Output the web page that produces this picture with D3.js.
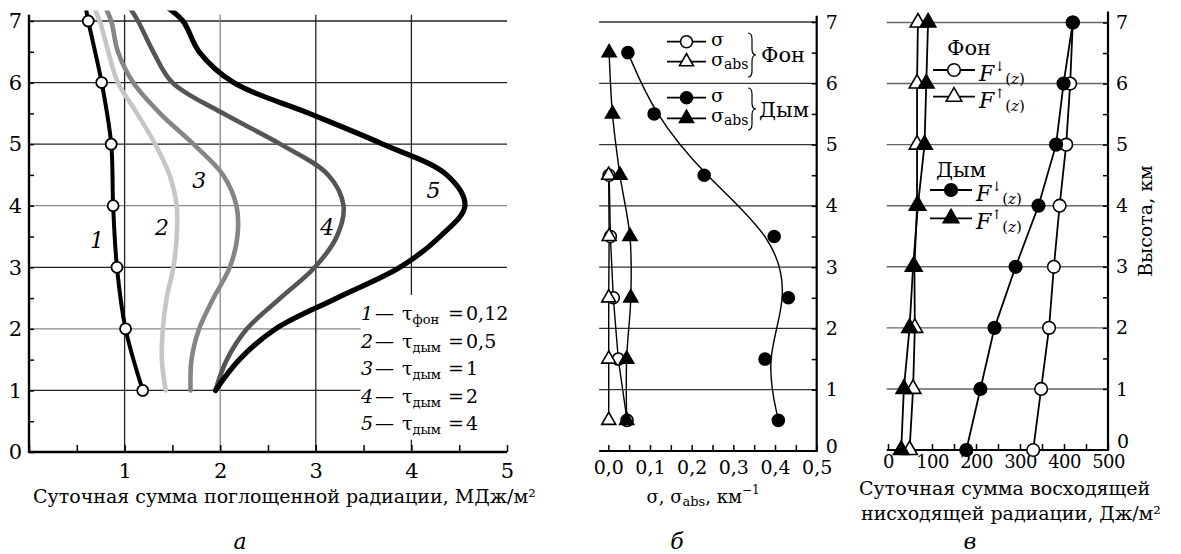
<!DOCTYPE html>
<html>
<head>
<meta charset="utf-8">
<script src="https://cdn.jsdelivr.net/npm/d3@7"></script>
<style>
  body { margin: 0; background: #fff; }
  svg { font-family: "DejaVu Serif", serif; }
  .axis path { display: none; }
  .axis line { stroke: #000; stroke-width: 1.5; }
  .axis text { font-family: "DejaVu Serif", serif; fill: #000; }
</style>
</head>
<body>
<div id="chart"></div>
<script>
// ---- panel a: absorbed radiation vs height ----
const hMarked = [1, 2, 3, 4, 5, 6, 7];
const curve1 = [1.19, 1.01, 0.92, 0.88, 0.86, 0.76, 0.62];
const curve1Top = [0.59, 7.25];
const hSmooth = [1, 1.5, 2, 2.5, 3, 3.5, 4, 4.5, 5, 5.5, 6, 6.5, 7, 7.25];
const curve2 = [1.43, 1.39, 1.40, 1.44, 1.51, 1.545, 1.545, 1.47, 1.32, 1.13, 0.93, 0.83, 0.74, 0.67];
const curve3 = [1.69, 1.70, 1.78, 1.93, 2.10, 2.18, 2.17, 2.03, 1.72, 1.37, 1.09, 0.93, 0.86, 0.79];
const curve4 = [1.95, 2.07, 2.28, 2.63, 2.99, 3.22, 3.29, 3.13, 2.63, 2.03, 1.50, 1.30, 1.14, 1.04];
const curve5 = [1.95, 2.20, 2.58, 3.22, 3.88, 4.30, 4.56, 4.37, 3.70, 2.93, 2.14, 1.78, 1.61, 1.42];
const curveColors = ["#000", "#c6c6c6", "#858585", "#555", "#000"];
const legendSub = ["фон", "дым", "дым", "дым", "дым"];
const legendTau = ["0,12", "0,5", "1", "2", "4"];
const curveLabels = [[0.71, 3.44], [1.39, 3.65], [1.78, 4.42], [3.12, 3.65], [4.23, 4.25]];

// ---- panel б: extinction / absorption coefficients ----
const hLayers = [0.5, 1.5, 2.5, 3.5, 4.5, 5.5, 6.5];
const fonSigma = [0.045, 0.024, 0.012, 0.005, 0.002];
const fonAbs = [0.001, 0.001, 0.001, 0.002, 0.001];
const smokeSigma = [0.408, 0.376, 0.432, 0.398, 0.230, 0.110, 0.047];
const smokeAbs = [0.044, 0.044, 0.054, 0.052, 0.028, 0.010, 0.002];

// ---- panel в: up/down fluxes ----
const hLevels = [0, 1, 2, 3, 4, 5, 6, 7];
const fonDown = [330, 348, 366, 377, 390, 405, 414, 420];
const smokeDown = [178, 210, 242, 290, 342, 382, 399, 420];
const fonUp = [49, 57, 61, 60, 66, 66, 66, 68];
const smokeUp = [30, 36, 49, 57, 68, 83, 87, 91];

const W = 1181, H = 554;
const svg = d3.select("#chart").append("svg").attr("width", W).attr("height", H);
svg.append("rect").attr("width", W).attr("height", H).attr("fill", "#fff");

const zip = (xs, ys) => xs.map((x, i) => [x, ys[i]]);

function brace(x, y0, y1, w) {
  const ym = (y0 + y1) / 2, r = 6, xm = x + w / 2;
  return `M${x},${y0} Q${xm},${y0} ${xm},${y0 + r} L${xm},${ym - r} Q${xm},${ym} ${x + w},${ym}` +
         ` Q${xm},${ym} ${xm},${ym + r} L${xm},${y1 - r} Q${xm},${y1} ${x},${y1}`;
}

// ================= panel a =================
const xA = d3.scaleLinear().domain([0, 5]).range([29, 507]);
const yA = d3.scaleLinear().domain([0, 7]).range([452, 21]);
const gA = svg.append("g");

// grid
gA.selectAll(".hg").data(d3.range(1, 8)).join("line")
  .attr("x1", xA(0)).attr("x2", d => d <= 2 ? xA(3.47) : xA(5))
  .attr("y1", d => yA(d)).attr("y2", d => yA(d))
  .attr("stroke", d => (d === 2 || d === 4) ? "#888" : "#222").attr("stroke-width", 1.3);
gA.selectAll(".vg").data([1, 2, 3, 4]).join("line")
  .attr("x1", d => xA(d)).attr("x2", d => xA(d))
  .attr("y1", yA(7.1)).attr("y2", yA(0))
  .attr("stroke", d => d === 2 ? "#888" : "#222").attr("stroke-width", 1.3);
gA.append("rect").attr("x", xA(3.47)).attr("y", yA(2.55))
  .attr("width", xA(5) - xA(3.47)).attr("height", yA(0.2) - yA(2.55)).attr("fill", "#fff");

// axes
gA.append("g").attr("class", "axis").attr("transform", `translate(0,${yA(0)})`)
  .call(d3.axisBottom(xA).tickValues(d3.range(0, 5.01, 0.5)).tickSize(-7).tickPadding(11)
    .tickFormat(d => Number.isInteger(d) && d > 0 ? d : ""))
  .selectAll("text").attr("font-size", 21);
gA.append("g").attr("class", "axis").attr("transform", `translate(${xA(0)},0)`)
  .call(d3.axisLeft(yA).tickValues(d3.range(0, 7.01, 0.5)).tickSize(-5).tickPadding(7)
    .tickFormat(d => Number.isInteger(d) ? d : ""))
  .selectAll("text").attr("font-size", 21);
gA.append("line").attr("x1", xA(0)).attr("x2", xA(0)).attr("y1", yA(7.1)).attr("y2", yA(0) + 1)
  .attr("stroke", "#000").attr("stroke-width", 2.4);
gA.append("line").attr("x1", xA(0)).attr("x2", xA(5)).attr("y1", yA(0)).attr("y2", yA(0))
  .attr("stroke", "#000").attr("stroke-width", 2.4);

// curves
svg.append("clipPath").attr("id", "clipA").append("rect")
  .attr("x", 0).attr("y", yA(7.17)).attr("width", 560).attr("height", 500);
const lineA = d3.line().x(d => xA(d[0])).y(d => yA(d[1])).curve(d3.curveCatmullRom);
const curves = [curve2, curve3, curve4, curve5];
const cg = gA.append("g").attr("clip-path", "url(#clipA)");
curves.forEach((c, i) => {
  cg.append("path").attr("d", lineA(zip(c, hSmooth)))
    .attr("fill", "none").attr("stroke", curveColors[i + 1])
    .attr("stroke-width", i === 3 ? 5.2 : 4.6).attr("stroke-linecap", "round");
});
cg.append("path").attr("d", lineA(zip(curve1, hMarked).concat([curve1Top])))
  .attr("fill", "none").attr("stroke", curveColors[0]).attr("stroke-width", 4);
gA.selectAll(".m1").data(zip(curve1, hMarked)).join("circle")
  .attr("cx", d => xA(d[0])).attr("cy", d => yA(d[1])).attr("r", 5.5)
  .attr("fill", "#fff").attr("stroke", "#000").attr("stroke-width", 1.8);

gA.selectAll(".cl").data(curveLabels).join("text")
  .attr("x", d => xA(d[0])).attr("y", d => yA(d[1])).attr("dy", "0.35em")
  .attr("text-anchor", "middle").attr("font-size", 22).attr("font-style", "italic")
  .text((d, i) => i + 1);

// legend a
legendSub.forEach((s, i) => {
  const y = 320 + i * 27.5;
  const t = gA.append("text").attr("y", y).attr("font-size", 19);
  t.append("tspan").attr("x", 361).attr("font-style", "italic").text(i + 1);
  t.append("tspan").attr("x", 375).text("—");
  t.append("tspan").attr("x", 402).text("τ");
  t.append("tspan").attr("font-size", 13).attr("dy", 4).text(s);
  t.append("tspan").attr("x", 448).attr("dy", -4).text("=");
  t.append("tspan").attr("x", 466).text(legendTau[i]);
});

gA.append("text").attr("x", 33).attr("y", 503).attr("font-size", 19)
  .text("Суточная сумма поглощенной радиации, МДж/м²");
gA.append("text").attr("x", 240).attr("y", 549).attr("font-size", 22)
  .attr("font-style", "italic").attr("text-anchor", "middle").text("а");

// ================= panel б =================
const xB = d3.scaleLinear().domain([0, 0.5]).range([608.3, 816.7]);
const yB = d3.scaleLinear().domain([0, 7]).range([451, 22]);
const gB = svg.append("g");

gB.selectAll(".hg").data(d3.range(1, 8)).join("line")
  .attr("x1", xB(-0.022)).attr("x2", xB(0.5))
  .attr("y1", d => yB(d)).attr("y2", d => yB(d))
  .attr("stroke", "#333").attr("stroke-width", 1.3);

gB.append("g").attr("class", "axis").attr("transform", `translate(0,${yB(0)})`)
  .call(d3.axisBottom(xB).tickValues(d3.range(0, 0.501, 0.05)).tickSize(-6).tickPadding(10)
    .tickFormat(d => Math.round(d * 100) % 10 === 0 ? d3.format(".1f")(d).replace(".", ",") : ""))
  .selectAll("text").attr("font-size", 19);
gB.append("g").attr("class", "axis").attr("transform", `translate(${xB(0.5)},0)`)
  .call(d3.axisRight(yB).tickValues(d3.range(1, 7.01, 0.5)).tickSize(-5).tickPadding(9)
    .tickFormat(d => Number.isInteger(d) ? d : ""))
  .selectAll("text").attr("font-size", 19);
gB.append("text").attr("x", xB(0.5) + 9).attr("y", yB(0) + 2).attr("font-size", 19).text("0");
gB.append("line").attr("x1", xB(0.5)).attr("x2", xB(0.5)).attr("y1", yB(7.1)).attr("y2", yB(0) + 1)
  .attr("stroke", "#000").attr("stroke-width", 2.2);
gB.append("line").attr("x1", xB(-0.022)).attr("x2", xB(0.5)).attr("y1", yB(0)).attr("y2", yB(0))
  .attr("stroke", "#000").attr("stroke-width", 2.2);

const lineB = d3.line().x(d => xB(d[0])).y(d => yB(d[1]));
const triSmall = d3.symbol(d3.symbolTriangle, 85);
const seriesB = [
  { v: fonSigma, shape: "c", fill: "#fff", curve: d3.curveLinear },
  { v: fonAbs, shape: "t", fill: "#fff", curve: d3.curveLinear },
  { v: smokeAbs, shape: "t", fill: "#000", curve: d3.curveCatmullRom },
  { v: smokeSigma, shape: "c", fill: "#000", curve: d3.curveBasis }
];
seriesB.forEach(s => {
  gB.append("path").attr("d", lineB.curve(s.curve)(zip(s.v, hLayers)))
    .attr("fill", "none").attr("stroke", "#000").attr("stroke-width", 1.4);
});
function drawMarkers(g, pts, shape, fill, r, tri) {
  if (shape === "c") {
    g.selectAll(null).data(pts).join("circle")
      .attr("cx", d => d[0]).attr("cy", d => d[1]).attr("r", r)
      .attr("fill", fill).attr("stroke", "#000").attr("stroke-width", 1.6);
  } else {
    g.selectAll(null).data(pts).join("path").attr("d", tri)
      .attr("transform", d => `translate(${d[0]},${d[1]})`)
      .attr("fill", fill).attr("stroke", "#000").attr("stroke-width", 1.6);
  }
}
seriesB.forEach(s => {
  drawMarkers(gB, zip(s.v, hLayers).map(d => [xB(d[0]), yB(d[1])]), s.shape, s.fill, 6, triSmall);
});

// legend б
const legB = [
  { y: 41.7, shape: "c", fill: "#fff", abs: false },
  { y: 61.7, shape: "t", fill: "#fff", abs: true },
  { y: 97.7, shape: "c", fill: "#000", abs: false },
  { y: 118.3, shape: "t", fill: "#000", abs: true }
];
legB.forEach(l => {
  gB.append("line").attr("x1", 667).attr("x2", 706).attr("y1", l.y).attr("y2", l.y)
    .attr("stroke", "#000").attr("stroke-width", 1.8);
  drawMarkers(gB, [[686.5, l.y]], l.shape, l.fill, 6, triSmall);
  const t = gB.append("text").attr("x", 711).attr("y", l.y + 4).attr("font-size", 19).text("σ");
  if (l.abs) t.append("tspan").attr("font-size", 14).attr("dy", 3).text("abs");
});
gB.append("path").attr("d", brace(748, 33, 77, 8)).attr("fill", "none").attr("stroke", "#000").attr("stroke-width", 1.2);
gB.append("path").attr("d", brace(748, 88, 130, 8)).attr("fill", "none").attr("stroke", "#000").attr("stroke-width", 1.2);
gB.append("text").attr("x", 761).attr("y", 62).attr("font-size", 21).text("Фон");
gB.append("text").attr("x", 759).attr("y", 117).attr("font-size", 21).text("Дым");

const tB = gB.append("text").attr("x", 703).attr("y", 503).attr("font-size", 18).attr("text-anchor", "middle");
tB.append("tspan").text("σ, σ");
tB.append("tspan").attr("font-size", 13).attr("dy", 3).text("abs");
tB.append("tspan").attr("dy", -3).text(", км");
tB.append("tspan").attr("font-size", 12).attr("dy", -9).text("−1");
gB.append("text").attr("x", 677).attr("y", 549).attr("font-size", 22)
  .attr("font-style", "italic").attr("text-anchor", "middle").text("б");

// ================= panel в =================
const xC = d3.scaleLinear().domain([0, 500]).range([888, 1108]);
const yC = d3.scaleLinear().domain([0, 7]).range([450, 22.5]);
const gC = svg.append("g");

gC.selectAll(".hg").data(d3.range(1, 8)).join("line")
  .attr("x1", xC(-3)).attr("x2", xC(500))
  .attr("y1", d => yC(d)).attr("y2", d => yC(d))
  .attr("stroke", "#666").attr("stroke-width", 1.4);

gC.append("g").attr("class", "axis").attr("transform", `translate(0,${yC(0)})`)
  .call(d3.axisBottom(xC).tickValues(d3.range(0, 501, 50)).tickSize(-6).tickPadding(5)
    .tickFormat(d => d % 100 === 0 ? d : ""))
  .selectAll("text").attr("font-size", 18).attr("letter-spacing", -0.6);
gC.append("g").attr("class", "axis").attr("transform", `translate(${xC(500)},0)`)
  .call(d3.axisRight(yC).tickValues(d3.range(1, 7.01, 0.5)).tickSize(-5).tickPadding(8)
    .tickFormat(d => Number.isInteger(d) ? d : ""))
  .selectAll("text").attr("font-size", 19);
gC.append("text").attr("x", xC(500) + 9).attr("y", yC(0) - 2).attr("font-size", 19).text("0");
gC.append("line").attr("x1", xC(500)).attr("x2", xC(500)).attr("y1", yC(7.18)).attr("y2", yC(0) + 1)
  .attr("stroke", "#000").attr("stroke-width", 2.2);
gC.append("line").attr("x1", xC(-3)).attr("x2", xC(500)).attr("y1", yC(0)).attr("y2", yC(0))
  .attr("stroke", "#000").attr("stroke-width", 2.2);

const lineC = d3.line().x(d => xC(d[0])).y(d => yC(d[1]));
const triBig = d3.symbol(d3.symbolTriangle, 105);
const seriesC = [
  { v: fonUp, shape: "t", fill: "#fff" },
  { v: smokeUp, shape: "t", fill: "#000" },
  { v: fonDown, shape: "c", fill: "#fff" },
  { v: smokeDown, shape: "c", fill: "#000" }
];
seriesC.forEach(s => {
  gC.append("path").attr("d", lineC(zip(s.v, hLevels)))
    .attr("fill", "none").attr("stroke", "#000").attr("stroke-width", 1.8);
});
seriesC.forEach(s => {
  drawMarkers(gC, zip(s.v, hLevels).map(d => [xC(d[0]), yC(d[1])]), s.shape, s.fill, 6.3, triBig);
});

// legend в
function fLabel(x, y, arrow) {
  const t = gC.append("text").attr("x", x).attr("y", y).attr("font-size", 22);
  t.append("tspan").attr("font-style", "italic").text("F");
  t.append("tspan").attr("font-size", 13).attr("dy", -10).text(arrow);
  t.append("tspan").attr("font-size", 15).attr("dy", 13).text("(");
  t.append("tspan").attr("font-size", 15).attr("font-style", "italic").text("z");
  t.append("tspan").attr("font-size", 15).text(")");
}
const legC = [
  { y: 70, x0: 933, shape: "c", fill: "#fff", arrow: "↓" },
  { y: 96.7, x0: 933, shape: "t", fill: "#fff", arrow: "↑" },
  { y: 190, x0: 930, shape: "c", fill: "#000", arrow: "↓" },
  { y: 218.3, x0: 930, shape: "t", fill: "#000", arrow: "↑" }
];
legC.forEach(l => {
  gC.append("line").attr("x1", l.x0).attr("x2", l.x0 + 42).attr("y1", l.y).attr("y2", l.y)
    .attr("stroke", "#000").attr("stroke-width", 1.8);
  drawMarkers(gC, [[l.x0 + 21, l.y]], l.shape, l.fill, 6.3, triBig);
  fLabel(l.x0 + 46, l.y + 11, l.arrow);
});
gC.append("text").attr("x", 947).attr("y", 55).attr("font-size", 21).text("Фон");
gC.append("text").attr("x", 936).attr("y", 177).attr("font-size", 21).text("Дым");

gC.append("text").attr("transform", `translate(1152,${yC(3.75)}) rotate(-90)`)
  .attr("text-anchor", "middle").attr("font-size", 19).text("Высота, км");
gC.append("text").attr("x", 859).attr("y", 495).attr("font-size", 19).text("Суточная сумма восходящей");
gC.append("text").attr("x", 861).attr("y", 520).attr("font-size", 19).text("нисходящей радиации, Дж/м²");
gC.append("text").attr("x", 970).attr("y", 549).attr("font-size", 22)
  .attr("font-style", "italic").attr("text-anchor", "middle").text("в");
</script>
</body>
</html>
